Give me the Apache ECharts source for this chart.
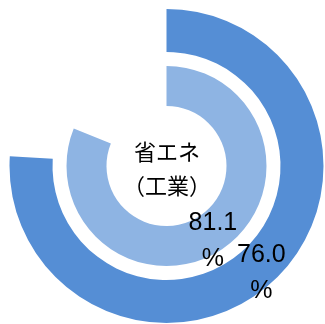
<!DOCTYPE html>
<html>
<head>
<meta charset="utf-8">
<script src="https://cdn.jsdelivr.net/npm/echarts@6/dist/echarts.min.js"></script>
<style>
  html, body { margin: 0; padding: 0; background: #ffffff; }
  #chart { width: 325px; height: 324px; }
</style>
</head>
<body>
<div id="chart"></div>
<script>
// Energy-saving achievement rates (industry), outer ring first
const ringLabels = ['outer', 'inner'];
const rateValues = [76.0, 81.1];
const ringColors = ['#558ED5', '#8EB4E3'];
const fullScale = 100;
const centerLines = ['省エネ', '（工業）'];

const ringRadii = [[114, 157], [60, 100]];
const ringCenter = [166.5, 166];
const labelShift = [[0, 6], [0, 6]];

function ringSeries(i) {
  const v = rateValues[i];
  return {
    type: 'pie',
    name: ringLabels[i],
    center: ringCenter,
    radius: ringRadii[i],
    startAngle: 90,
    clockwise: true,
    silent: true,
    avoidLabelOverlap: false,
    labelLine: { show: false },
    labelLayout: { hideOverlap: false, dx: labelShift[i][0], dy: labelShift[i][1] },
    emphasis: { disabled: true },
    data: [
      {
        value: v,
        itemStyle: { color: ringColors[i] },
        label: {
          show: true,
          position: 'inside',
          formatter: v.toFixed(1) + '\n%',
          color: '#000000',
          fontFamily: 'Liberation Sans',
          fontSize: 25,
          lineHeight: 36,
          align: 'center'
        }
      },
      {
        value: fullScale - v,
        itemStyle: { color: 'rgba(0,0,0,0)' },
        label: { show: false }
      }
    ]
  };
}

const chart = echarts.init(document.getElementById('chart'), null, { renderer: 'canvas' });
chart.setOption({
  animation: false,
  backgroundColor: '#ffffff',
  graphic: [{
    type: 'text',
    x: 167,
    y: 169,
    silent: true,
    style: {
      text: centerLines.join('\n'),
      fill: '#000000',
      font: '22px "Noto Sans CJK JP"',
      lineHeight: 34,
      textAlign: 'center',
      textVerticalAlign: 'middle',
      align: 'center',
      verticalAlign: 'middle'
    }
  }],
  series: [ringSeries(0), ringSeries(1)]
});
</script>
</body>
</html>
